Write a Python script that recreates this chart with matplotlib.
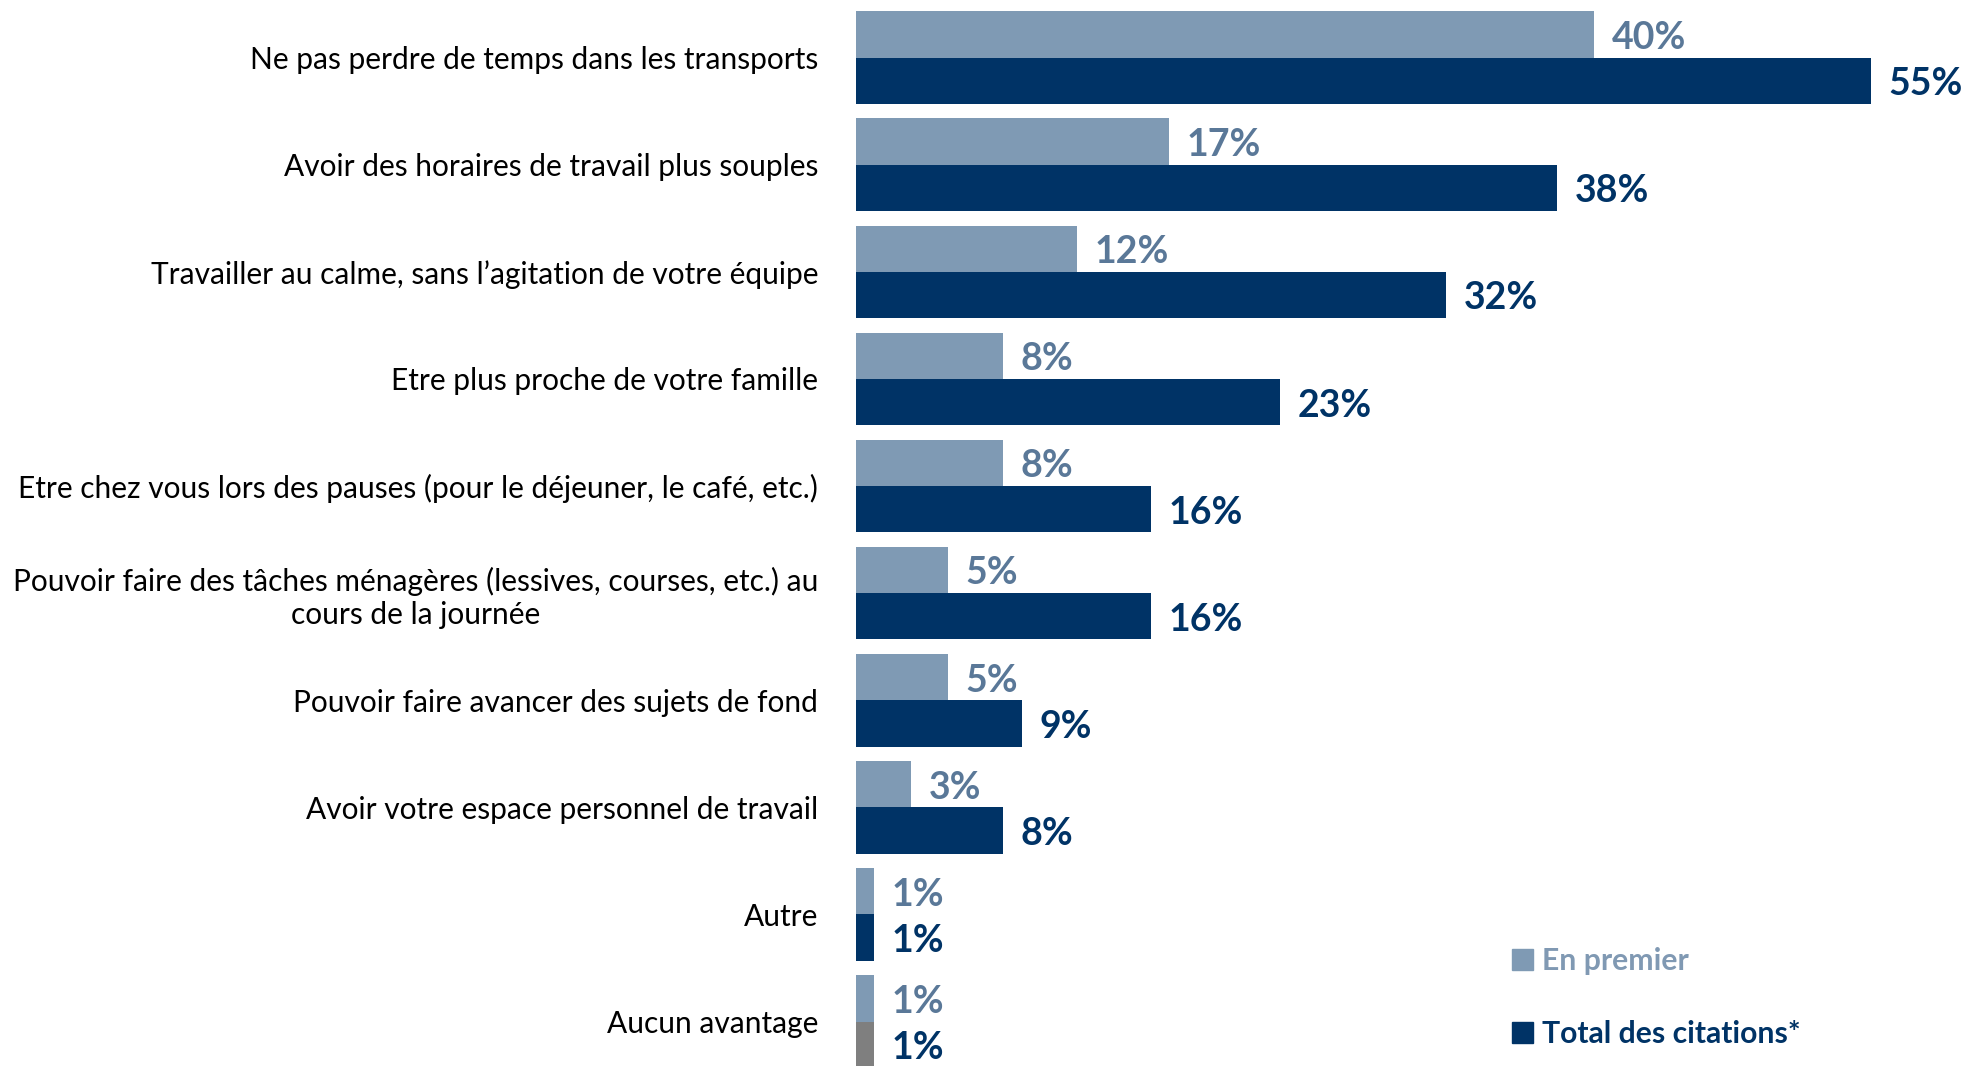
import matplotlib
matplotlib.use("Agg")
import matplotlib.pyplot as plt
from matplotlib.patches import Patch

plt.rcParams['font.family'] = ['Lato', 'DejaVu Sans']

categories = [
    "Ne pas perdre de temps dans les transports",
    "Avoir des horaires de travail plus souples",
    "Travailler au calme, sans l\u2019agitation de votre équipe",
    "Etre plus proche de votre famille",
    "Etre chez vous lors des pauses (pour le déjeuner, le café, etc.)",
    "Pouvoir faire des tâches ménagères (lessives, courses, etc.) au\ncours de la journée",
    "Pouvoir faire avancer des sujets de fond",
    "Avoir votre espace personnel de travail",
    "Autre",
    "Aucun avantage",
]
en_premier = [40, 17, 12, 8, 8, 5, 5, 3, 1, 1]
total_citations = [55, 38, 32, 23, 16, 16, 9, 8, 1, 1]
series_names = ["En premier", "Total des citations*"]

LIGHT = "#7f9ab4"
LIGHT_TXT = "#5a7898"
DARK = "#003366"
GREY = "#7f7f7f"

W, H = 1963, 1066
fig = plt.figure(figsize=(W / 100, H / 100), dpi=100)
left_px = 855.6
ax = fig.add_axes([left_px / W, 0, 1 - left_px / W, 1])

bh = 0.432
ys = list(range(len(categories)))
dark_colors = [DARK] * (len(categories) - 1) + [GREY]

ax.barh([y - bh / 2 for y in ys], en_premier, height=bh, color=LIGHT)
ax.barh([y + bh / 2 for y in ys], total_citations, height=bh, color=dark_colors)

off = 0.95
base_shift = 0.135
for y, v in zip(ys, en_premier):
    ax.text(v + off, y - bh / 2 + base_shift, f"{v}%", va="baseline", ha="left",
            fontsize=27, fontweight="bold", color=LIGHT_TXT)
for y, v in zip(ys, total_citations):
    ax.text(v + off, y + bh / 2 + base_shift, f"{v}%", va="baseline", ha="left",
            fontsize=27, fontweight="bold", color=DARK)

ax.set_xlim(0, 60)
ax.set_ylim(9.415, -0.538)
ax.set_yticks(ys)
ax.set_yticklabels(categories, fontsize=21.5, color="black")
for lab in ax.get_yticklabels():
    lab.set_multialignment("center")
ax.tick_params(axis="y", length=0, pad=27)
ax.set_xticks([])
for s in ax.spines.values():
    s.set_visible(False)

handles = [Patch(color=LIGHT), Patch(color=DARK)]
leg = fig.legend(handles, series_names, loc="upper left",
                 bbox_to_anchor=(1512 / W, 1 - 947 / H), frameon=False,
                 handlelength=0.7, handleheight=0.7, handletextpad=0.3,
                 labelspacing=1.49, borderpad=0, borderaxespad=0,
                 prop={"size": 21.7, "weight": "bold"})
leg.get_texts()[0].set_color("#8099b3")
leg.get_texts()[1].set_color(DARK)

fig.savefig("out.png", dpi=100)
